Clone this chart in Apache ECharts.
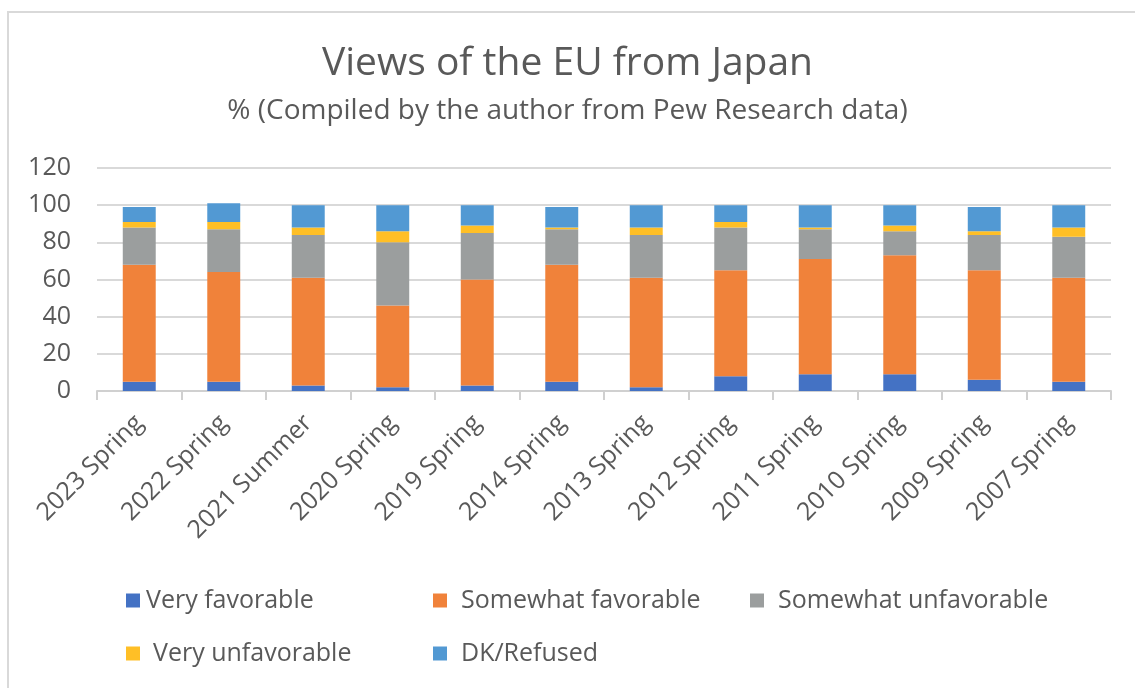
<!DOCTYPE html>
<html>
<head>
<meta charset="utf-8">
<script src="https://cdn.jsdelivr.net/npm/echarts@6/dist/echarts.min.js"></script>
<style>
html, body { margin: 0; padding: 0; background: #fff; }
#main { width: 1135px; height: 688px; }
</style>
</head>
<body>
<div id="main"></div>
<script>
var categories = ['2023 Spring', '2022 Spring', '2021 Summer', '2020 Spring', '2019 Spring', '2014 Spring',
                  '2013 Spring', '2012 Spring', '2011 Spring', '2010 Spring', '2009 Spring', '2007 Spring'];
var veryFav      = [5, 5, 3, 2, 3, 5, 2, 8, 9, 9, 6, 5];
var somewhatFav  = [63, 59, 58, 44, 57, 63, 59, 57, 62, 64, 59, 56];
var somewhatUnf  = [20, 23, 23, 34, 25, 19, 23, 23, 16, 13, 19, 22];
var veryUnf      = [3, 4, 4, 6, 4, 1, 4, 3, 1, 3, 2, 5];
var dkRefused    = [8, 10, 12, 14, 11, 11, 12, 9, 12, 11, 13, 12];
var yTicks = [0, 20, 40, 60, 80, 100, 120];

var names = ['Very favorable', 'Somewhat favorable', 'Somewhat unfavorable', 'Very unfavorable', 'DK/Refused'];
var colors = ['#4472C4', '#F0823A', '#9B9E9E', '#FFBF26', '#5299D3'];
var values = [veryFav, somewhatFav, somewhatUnf, veryUnf, dkRefused];

var textColor = '#595959';
var font = '"Open Sans", "Noto Sans", sans-serif';

// legend: two rows, [left, top, gap between box and text]
var legendPos = [[126, 588, 6], [433, 588, 14], [750, 588, 14], [126, 641, 13], [433, 641, 14]];
var legends = [];
for (var i = 0; i < names.length; i++) {
  legends.push({
    data: [names[i]],
    left: legendPos[i][0],
    top: legendPos[i][1],
    padding: 0,
    icon: 'rect',
    itemWidth: 14,
    itemHeight: 14,
    itemGap: 0,
    textStyle: { color: textColor, fontSize: 25, fontFamily: font, padding: [0, 0, 0, legendPos[i][2] - 5] }
  });
}

var series = [];
for (var j = 0; j < names.length; j++) {
  series.push({
    name: names[j],
    type: 'bar',
    stack: 'total',
    barWidth: '39%',
    data: values[j],
    itemStyle: { color: colors[j] }
  });
}

var option = {
  animation: false,
  color: colors,
  title: [
    {
      text: 'Views of the EU from Japan',
      left: 'center',
      top: 39,
      textStyle: { color: textColor, fontSize: 39, fontWeight: 'normal', fontFamily: font }
    },
    {
      text: '% (Compiled by the author from Pew Research data)',
      left: 'center',
      top: 92,
      textStyle: { color: textColor, fontSize: 28, fontWeight: 'normal', fontFamily: font }
    }
  ],
  legend: legends,
  grid: { left: 97, right: 24, top: 168, bottom: 297 },
  xAxis: {
    type: 'category',
    data: categories,
    axisLine: { lineStyle: { color: '#d0d0d0', width: 2 } },
    axisTick: { show: true, length: 9, lineStyle: { color: '#d0d0d0', width: 2 } },
    axisLabel: { rotate: 45, color: textColor, fontSize: 25, fontFamily: font, margin: 28, interval: 0 }
  },
  yAxis: {
    type: 'value',
    min: 0,
    max: 120,
    interval: 20,
    axisLine: { show: false },
    axisTick: { show: false },
    axisLabel: {
      color: textColor, fontSize: 25, fontFamily: font, margin: 26,
      formatter: function (v) { return yTicks.indexOf(v) >= 0 ? String(v) : ''; }
    },
    splitLine: { lineStyle: { color: '#d9d9d9', width: 2 } }
  },
  graphic: [
    {
      type: 'polyline',
      shape: { points: [[8, 688], [8, 12], [1135, 12]] },
      style: { stroke: '#d9d9d9', lineWidth: 2, fill: null }
    }
  ],
  series: series
};

var myChart = echarts.init(document.getElementById('main'));
myChart.setOption(option);
</script>
</body>
</html>
